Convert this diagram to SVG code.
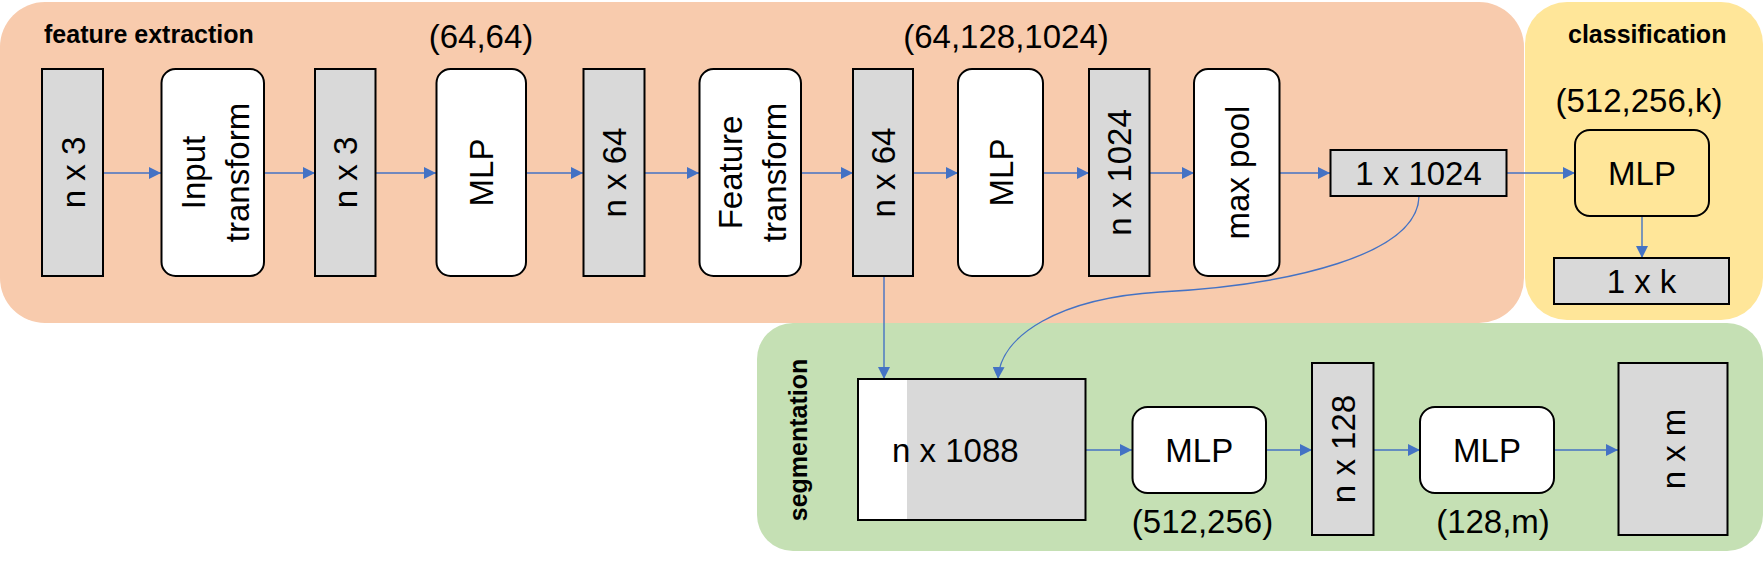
<svg xmlns="http://www.w3.org/2000/svg" width="1764" height="567" viewBox="0 0 1764 567">
<style>
.t{font-family:"Liberation Sans",Arial,sans-serif;font-size:33px;fill:#000}
.b{font-family:"Liberation Sans",Arial,sans-serif;font-size:25px;font-weight:bold;fill:#000}
.g{fill:#D9D9D9;stroke:#000;stroke-width:2}
.w{fill:#FFFFFF;stroke:#000;stroke-width:2}
.y{fill:#FFE699;stroke:#000;stroke-width:2}
.c{fill:none;stroke:#4472C4;stroke-width:1.4;marker-end:url(#ah)}
</style>
<defs>
<marker id="ah" viewBox="0 0 12 12" refX="12" refY="6" markerWidth="12" markerHeight="12" markerUnits="userSpaceOnUse" orient="auto">
<path d="M0,0 L12,6 L0,12 Z" fill="#4472C4"/>
</marker>
</defs>
<rect width="1764" height="567" fill="#FFFFFF"/>
<g id="panel-feature"><rect x="0" y="2" width="1524" height="321" rx="45" fill="#F8CBAD"/><text class="b" x="44" y="43">feature extraction</text></g>
<g id="panel-classification"><rect x="1525" y="2" width="238" height="318" rx="42" fill="#FFE699"/><text class="b" x="1568" y="43">classification</text></g>
<g id="panel-segmentation"><rect x="757" y="323" width="1006" height="228" rx="36" fill="#C5E0B4"/><text class="b" transform="translate(807,440) rotate(-90)" text-anchor="middle">segmentation</text></g>

<g id="connectors">
<line class="c" x1="103" y1="173" x2="161" y2="173"/>
<line class="c" x1="264" y1="173" x2="315" y2="173"/>
<line class="c" x1="375" y1="173" x2="436" y2="173"/>
<line class="c" x1="526" y1="173" x2="583" y2="173"/>
<line class="c" x1="644" y1="173" x2="699" y2="173"/>
<line class="c" x1="801" y1="173" x2="853" y2="173"/>
<line class="c" x1="913" y1="173" x2="958" y2="173"/>
<line class="c" x1="1043" y1="173" x2="1089" y2="173"/>
<line class="c" x1="1149" y1="173" x2="1194" y2="173"/>
<line class="c" x1="1279" y1="173" x2="1330" y2="173"/>
<line class="c" x1="1507" y1="173" x2="1575" y2="173"/>
<line class="c" x1="1642" y1="216" x2="1642" y2="258"/>
<line class="c" x1="884" y1="276" x2="884" y2="379"/>
<path class="c" d="M1419,196 C1418,255 1290,285 1160,292 C1060,298 1000,335 998,379"/>
<line class="c" x1="1086" y1="450" x2="1132" y2="450"/>
<line class="c" x1="1266" y1="450" x2="1312" y2="450"/>
<line class="c" x1="1373" y1="450" x2="1420" y2="450"/>
<line class="c" x1="1554" y1="450" x2="1618" y2="450"/>
</g>

<g id="n-in"><rect class="g" x="42" y="69" width="61" height="207"/><text class="t" transform="translate(72.5,172.5) rotate(-90)" text-anchor="middle" dy="12">n x 3</text></g>
<g id="input-transform"><rect class="w" x="161.5" y="69" width="102.5" height="207" rx="14"/><text class="t" transform="translate(212.75,172.5) rotate(-90)" text-anchor="middle"><tspan x="0" y="-8">Input</tspan><tspan x="0" y="36">transform</tspan></text></g>
<g id="n-3b"><rect class="g" x="315" y="69" width="60.5" height="207"/><text class="t" transform="translate(345.2,172.5) rotate(-90)" text-anchor="middle" dy="12">n x 3</text></g>
<g id="mlp1"><text class="t" x="481" y="48" text-anchor="middle">(64,64)</text><rect class="w" x="436.5" y="69" width="89.5" height="207" rx="14"/><text class="t" transform="translate(481.3,172.5) rotate(-90)" text-anchor="middle" dy="12">MLP</text></g>
<g id="n-64a"><rect class="g" x="583.5" y="69" width="61" height="207"/><text class="t" transform="translate(614,172.5) rotate(-90)" text-anchor="middle" dy="12">n x 64</text></g>
<g id="feature-transform"><rect class="w" x="699.5" y="69" width="101.5" height="207" rx="14"/><text class="t" transform="translate(750.3,172.5) rotate(-90)" text-anchor="middle"><tspan x="0" y="-8">Feature</tspan><tspan x="0" y="36">transform</tspan></text></g>
<g id="n-64b"><rect class="g" x="853" y="69" width="60" height="207"/><text class="t" transform="translate(883,172.5) rotate(-90)" text-anchor="middle" dy="12">n x 64</text></g>
<g id="mlp2"><text class="t" x="1006" y="48" text-anchor="middle">(64,128,1024)</text><rect class="w" x="958" y="69" width="85" height="207" rx="14"/><text class="t" transform="translate(1000.5,172.5) rotate(-90)" text-anchor="middle" dy="12">MLP</text></g>
<g id="n-1024"><rect class="g" x="1089" y="69" width="60.5" height="207"/><text class="t" transform="translate(1119.2,172.5) rotate(-90)" text-anchor="middle" dy="12">n x 1024</text></g>
<g id="max-pool"><rect class="w" x="1194" y="69" width="85.5" height="207" rx="14"/><text class="t" transform="translate(1236.7,172.5) rotate(-90)" text-anchor="middle" dy="12">max pool</text></g>
<g id="global-feature"><rect class="g" x="1330.5" y="150" width="176" height="46"/><text class="t" x="1418.5" y="185" text-anchor="middle">1 x 1024</text></g>

<g id="cls-mlp"><text class="t" x="1639" y="112" text-anchor="middle">(512,256,k)</text><rect class="y" x="1575" y="130" width="134" height="86" rx="15"/><text class="t" x="1642" y="185" text-anchor="middle">MLP</text></g>
<g id="cls-out"><rect class="g" x="1554" y="258" width="175" height="46"/><text class="t" x="1641.5" y="293" text-anchor="middle">1 x k</text></g>

<g id="n-1088"><rect x="858" y="379" width="49" height="141" fill="#FFFFFF"/><rect x="907" y="379" width="178.5" height="141" fill="#D9D9D9"/><rect x="858" y="379" width="227.5" height="141" fill="none" stroke="#000" stroke-width="2"/><text class="t" x="892" y="462">n x 1088</text></g>
<g id="seg-mlp1"><rect class="w" x="1132.5" y="407" width="133.5" height="86" rx="15"/><text class="t" x="1199.3" y="462" text-anchor="middle">MLP</text><text class="t" x="1202.5" y="533" text-anchor="middle">(512,256)</text></g>
<g id="n-128"><rect class="g" x="1312" y="363" width="61.5" height="172"/><text class="t" transform="translate(1342.7,449) rotate(-90)" text-anchor="middle" dy="12">n x 128</text></g>
<g id="seg-mlp2"><rect class="w" x="1420" y="407" width="134" height="86" rx="15"/><text class="t" x="1487" y="462" text-anchor="middle">MLP</text><text class="t" x="1493" y="533" text-anchor="middle">(128,m)</text></g>
<g id="n-m"><rect class="g" x="1618.5" y="363" width="109" height="172"/><text class="t" transform="translate(1673,449) rotate(-90)" text-anchor="middle" dy="12">n x m</text></g>
</svg>
